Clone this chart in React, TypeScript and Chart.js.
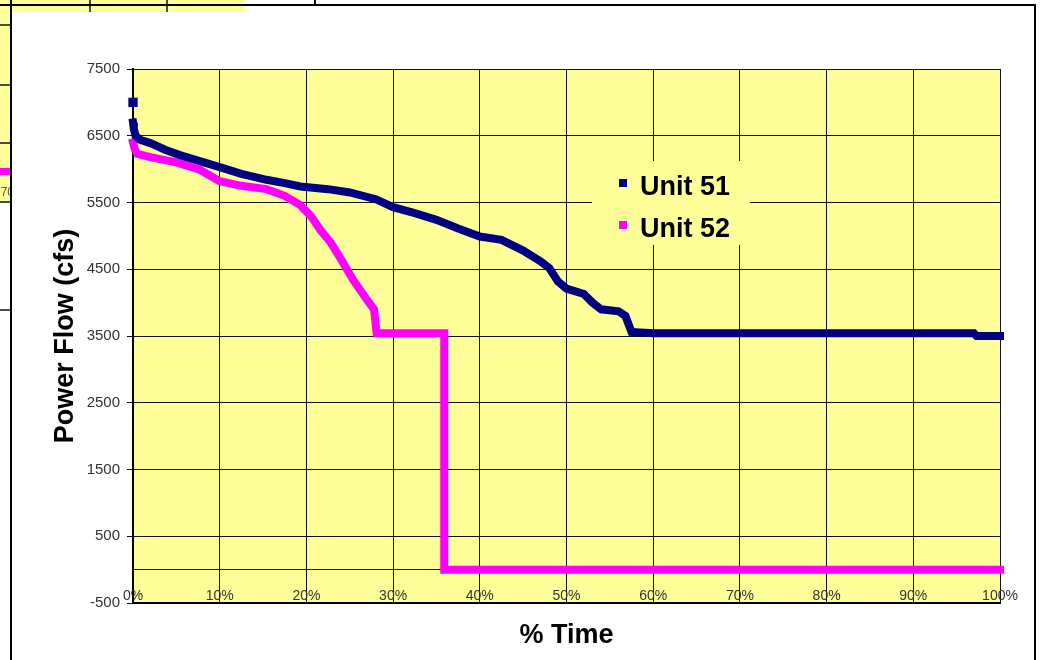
import React, { useEffect, useRef } from "react";
import { Chart, registerables } from "chart.js";

Chart.register(...registerables);

// ---- data ----
const seriesNames = ["Unit 51", "Unit 52"];

const unit51Pct = [0, 0, 0, 0.1, 0.3, 0.8, 2, 3.7, 5.4, 7.7, 10, 12.5, 15.4, 17.5, 19.3, 22.5, 25, 28, 30, 32.5, 35, 37.5, 40, 42.5, 45, 47, 48, 49, 50, 52, 53, 54, 56, 56.8, 57.5, 60, 97, 97.3, 100];
const unit51Flow = [7000, null, 6700, 6600, 6500, 6440, 6390, 6290, 6210, 6120, 6030, 5930, 5840, 5790, 5740, 5700, 5650, 5550, 5430, 5340, 5240, 5110, 4990, 4940, 4780, 4620, 4520, 4320, 4210, 4130, 4000, 3900, 3870, 3800, 3560, 3540, 3540, 3500, 3500];

const unit52Pct = [0, 0.2, 0.5, 2, 5, 7.7, 10, 12.5, 15.4, 17.5, 19.3, 20.5, 21.6, 22.8, 23.9, 25.4, 27, 27.8, 28.1, 30, 35.9, 35.9, 100];
const unit52Flow = [6400, 6300, 6230, 6180, 6100, 5990, 5820, 5750, 5700, 5600, 5460, 5300, 5090, 4900, 4670, 4340, 4040, 3900, 3540, 3540, 3540, 0, 0];

const xTickValues = [0, 10, 20, 30, 40, 50, 60, 70, 80, 90, 100];
const yTickValues = [-500, 0, 500, 1500, 2500, 3500, 4500, 5500, 6500, 7500];

const xAxisTitle = "% Time";
const yAxisTitle = "Power Flow (cfs)";

const NAVY = "#000080";
const MAGENTA = "#FF00FF";
const YELLOW = "#FFFF99";
const FONT = "'Liberation Sans', Arial, sans-serif";

function toXY(xs: number[], ys: (number | null)[]) {
  return xs.map((x, i) => ({ x, y: ys[i] }));
}

const decorPlugin = {
  id: "decor",
  beforeDraw(chart: any) {
    const { ctx, chartArea } = chart;
    ctx.save();
    // background fragment of another chart (top-left)
    ctx.fillStyle = YELLOW;
    ctx.fillRect(0, 0, 245, 12);
    ctx.fillRect(0, 0, 11, 202);
    ctx.strokeStyle = "#111";
    ctx.lineWidth = 1.5;
    const line = (x1: number, y1: number, x2: number, y2: number) => {
      ctx.beginPath();
      ctx.moveTo(x1, y1);
      ctx.lineTo(x2, y2);
      ctx.stroke();
    };
    line(90, 0, 90, 12);
    line(167, 0, 167, 12);
    line(0, 25, 11, 25);
    line(0, 85, 11, 85);
    line(0, 143, 11, 143);
    line(0, 202, 11, 202);
    line(0, 310, 11, 310);
    ctx.lineWidth = 2;
    line(315, 0, 315, 12);
    ctx.fillStyle = MAGENTA;
    ctx.fillRect(0, 168, 11, 7);
    ctx.fillStyle = "#555";
    ctx.font = "12px " + FONT;
    ctx.textAlign = "right";
    ctx.textBaseline = "alphabetic";
    ctx.fillText("70", 14, 196);
    // white chart box
    ctx.fillStyle = "#ffffff";
    ctx.fillRect(12, 12, 1022, 660);
    ctx.fillRect(245, 6, 789, 6);
    ctx.strokeStyle = "#000";
    ctx.lineWidth = 2;
    line(0, 5, 1036, 5);
    line(11, 0, 11, 660);
    line(1035, 5, 1035, 660);
    // plot area background
    ctx.fillStyle = YELLOW;
    ctx.fillRect(chartArea.left, chartArea.top, chartArea.right - chartArea.left, chartArea.bottom - chartArea.top);
    ctx.restore();
  },
};

const overlayPlugin = {
  id: "overlay",
  afterDraw(chart: any) {
    const { ctx, chartArea } = chart;
    const xScale = chart.scales.x;
    ctx.save();
    // x tick labels, drawn just inside the bottom of the plot (Excel style)
    ctx.fillStyle = "#333";
    ctx.font = "14px " + FONT;
    ctx.textAlign = "center";
    ctx.textBaseline = "alphabetic";
    xTickValues.forEach((v) => {
      ctx.fillText(v + "%", xScale.getPixelForValue(v), chartArea.bottom - 3);
    });
    // legend inside the plot
    ctx.fillStyle = YELLOW;
    ctx.fillRect(592, 161, 158, 84);
    const colors = [NAVY, MAGENTA];
    const baselines = [195, 237];
    ctx.font = "bold 27px " + FONT;
    ctx.textAlign = "left";
    seriesNames.forEach((name, i) => {
      ctx.fillStyle = colors[i];
      ctx.fillRect(619, baselines[i] - 16, 8, 8);
      ctx.fillStyle = "#000";
      ctx.fillText(name, 640, baselines[i]);
    });
    ctx.restore();
  },
};

export default function App() {
  const ref = useRef<HTMLCanvasElement | null>(null);

  useEffect(() => {
    if (!ref.current) return;
    Chart.defaults.font.family = FONT;
    const chart = new Chart(ref.current, {
      type: "line",
      data: {
        datasets: [
          {
            label: seriesNames[0],
            data: toXY(unit51Pct, unit51Flow),
            borderColor: NAVY,
            backgroundColor: NAVY,
            borderWidth: 8,
            pointStyle: "rect",
            pointRadius: (c: any) => (c.dataIndex === 0 ? 6.6 : 0),
            pointHoverRadius: 0,
            pointBorderWidth: 0,
            borderCapStyle: "square",
            borderJoinStyle: "miter",
            tension: 0,
            clip: false,
          },
          {
            label: seriesNames[1],
            data: toXY(unit52Pct, unit52Flow),
            borderColor: MAGENTA,
            backgroundColor: MAGENTA,
            borderWidth: 8,
            pointRadius: 0,
            pointHoverRadius: 0,
            borderCapStyle: "square",
            borderJoinStyle: "miter",
            tension: 0,
            clip: false,
          },
        ],
      },
      options: {
        animation: false,
        responsive: false,
        events: [],
        layout: { padding: { left: 49, top: 69, right: 41, bottom: 8 } },
        plugins: { legend: { display: false }, tooltip: { enabled: false } },
        scales: {
          x: {
            type: "linear",
            min: 0,
            max: 100,
            afterBuildTicks: (s: any) => {
              s.ticks = xTickValues.map((v) => ({ value: v }));
            },
            afterFit: (s: any) => {
              s.height = 49;
            },
            ticks: { display: false },
            grid: { color: "#111", drawTicks: false, lineWidth: 1 },
            border: { color: "#000", width: 2 },
            title: {
              display: true,
              text: xAxisTitle,
              color: "#000",
              font: { size: 27, weight: "bold" },
              padding: 0,
            },
          },
          y: {
            type: "linear",
            min: -500,
            max: 7500,
            afterBuildTicks: (s: any) => {
              s.ticks = yTickValues.map((v) => ({ value: v }));
            },
            afterFit: (s: any) => {
              s.width = 84;
            },
            ticks: {
              padding: 7,
              color: "#333",
              font: { size: 15 },
              callback: (v: any) => (v === 0 ? "" : String(v)),
              autoSkip: false,
            },
            grid: {
              color: "#111",
              lineWidth: 1,
              tickLength: 6,
              tickColor: (c: any) => (c.tick && c.tick.value === 0 ? "rgba(0,0,0,0)" : "#111"),
            },
            border: { color: "#000", width: 2 },
            title: {
              display: true,
              text: yAxisTitle,
              color: "#000",
              font: { size: 27, weight: "bold" },
              padding: 0,
            },
          },
        },
      },
      plugins: [decorPlugin, overlayPlugin],
    } as any);
    return () => chart.destroy();
  }, []);

  return (
    <div style={{ position: "absolute", left: 0, top: 0, width: 1041, height: 660, background: "#fff" }}>
      <canvas ref={ref} width={1041} height={660} style={{ display: "block", width: 1041, height: 660 }} />
    </div>
  );
}
